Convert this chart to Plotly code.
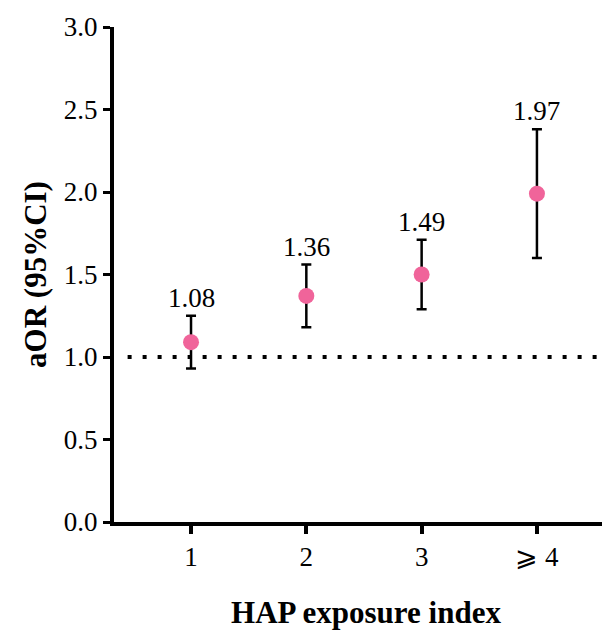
import plotly.graph_objects as go

categories = ["1", "2", "3", "\u2a7e 4"]
aor = [1.09, 1.37, 1.50, 1.99]
ci_low = [0.93, 1.18, 1.29, 1.60]
ci_high = [1.25, 1.56, 1.71, 2.38]
labels = ["1.08", "1.36", "1.49", "1.97"]
y_ticks = [0.0, 0.5, 1.0, 1.5, 2.0, 2.5, 3.0]

xpos = list(range(1, len(categories) + 1))
FONT = "Liberation Serif, Times New Roman, serif"

fig = go.Figure()

# reference line at 1.0
fig.add_trace(go.Scatter(
    x=[0.45, 4.8], y=[1.0, 1.0], mode="lines",
    line=dict(color="black", width=4, dash="4px,11px"),
    hoverinfo="skip", showlegend=False, cliponaxis=False,
))

fig.add_trace(go.Scatter(
    x=xpos, y=aor, mode="markers",
    marker=dict(color="#F0649A", size=16, line=dict(width=0)),
    error_y=dict(
        type="data", symmetric=False,
        array=[h - v for h, v in zip(ci_high, aor)],
        arrayminus=[v - l for v, l in zip(aor, ci_low)],
        color="black", thickness=2.5, width=5,
    ),
    showlegend=False,
))

for x, top, lab in zip(xpos, ci_high, labels):
    fig.add_annotation(x=x, y=top, text=lab, showarrow=False,
                       yanchor="bottom", yshift=1,
                       font=dict(family=FONT, size=27, color="black"))

fig.update_layout(
    width=610, height=622,
    margin=dict(l=106, r=0, t=19, b=108),
    plot_bgcolor="white", paper_bgcolor="white",
    font=dict(family=FONT, color="black"),
)
fig.update_xaxes(
    range=[0.332, 4.703], tickvals=xpos, ticktext=categories,
    showline=True, linecolor="black", linewidth=4,
    ticks="outside", ticklen=8, tickwidth=4, tickcolor="black",
    showgrid=False, zeroline=False,
    tickfont=dict(family=FONT, size=27, color="black"),
    title=dict(text="<b>HAP exposure index</b>", standoff=32,
               font=dict(family=FONT, size=31, color="black")),
)
fig.update_yaxes(
    range=[0, 3.0], tickvals=y_ticks, ticktext=[f"{v:.1f}" for v in y_ticks],
    showline=True, linecolor="black", linewidth=4,
    ticks="outside", ticklen=7, tickwidth=3, tickcolor="black",
    showgrid=False, zeroline=False,
    tickfont=dict(family=FONT, size=27, color="black"),
    title=dict(text="<b>aOR (95%CI)</b>", standoff=9,
               font=dict(family=FONT, size=31, color="black")),
)

fig.write_html("out.html")
